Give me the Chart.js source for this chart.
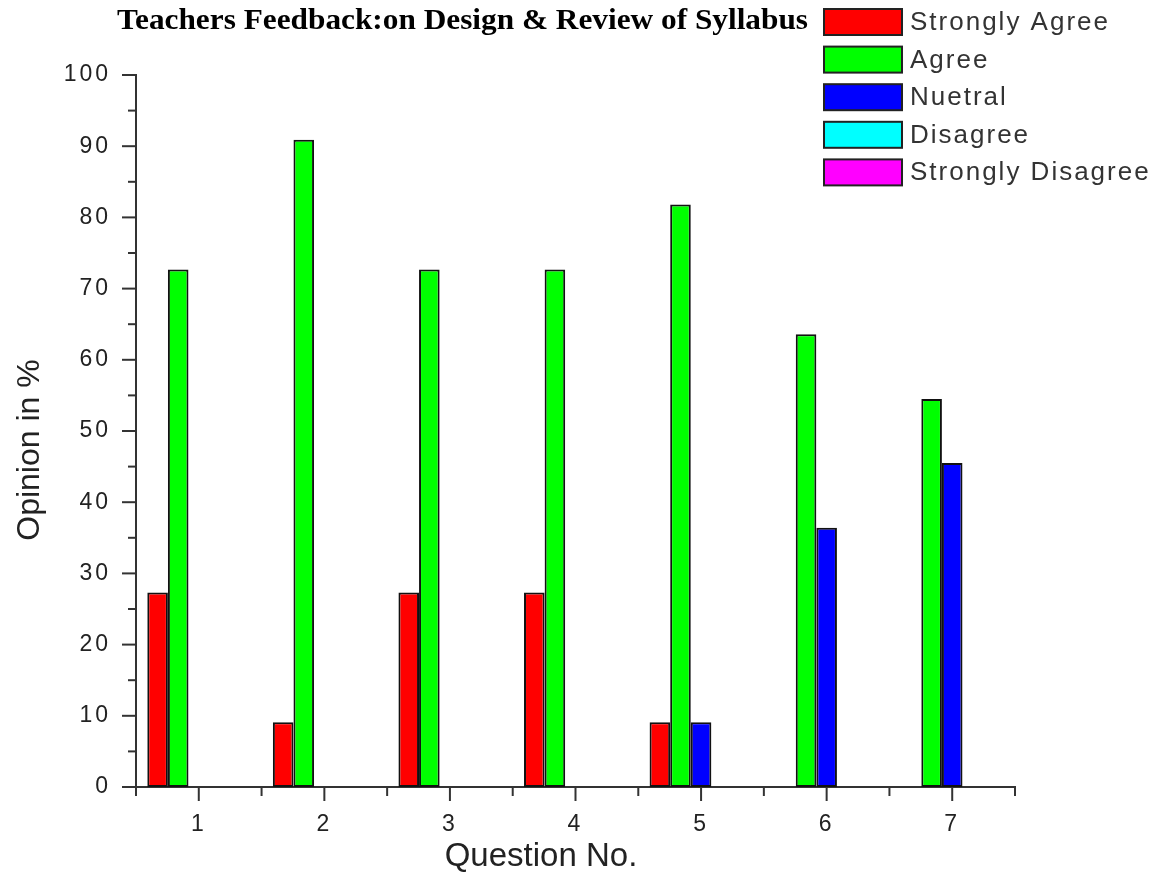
<!DOCTYPE html>
<html>
<head>
<meta charset="utf-8">
<title>Teachers Feedback on Design & Review of Syllabus</title>
<script src="https://cdn.jsdelivr.net/npm/chart.js@4.4.1/dist/chart.umd.min.js"></script>
<style>
    html, body { margin: 0; padding: 0; background: #fff; }
    #wrap { width: 1164px; height: 877px; position: relative; }
</style>
</head>
<body>
<div id="wrap"><canvas id="feedback-chart" width="1164" height="877"></canvas></div>
<script>
    // values (percent of teachers)
    var questions = ['1', '2', '3', '4', '5', '6', '7'];
    var seriesNames = ['Strongly Agree', 'Agree', 'Nuetral', 'Disagree', 'Strongly Disagree'];
    var seriesColors = ['#ff0000', '#00ff00', '#0000ff', '#00ffff', '#ff00ff'];
    var stronglyAgree = [27.3, 9.1, 27.3, 27.3, 9.1, 0, 0];
    var agree = [72.7, 90.9, 72.7, 72.7, 81.8, 63.6, 54.5];
    var neutral = [0, 0, 0, 0, 9.1, 36.4, 45.5];
    var disagree = [0, 0, 0, 0, 0, 0, 0];
    var stronglyDisagree = [0, 0, 0, 0, 0, 0, 0];
    var yTicks = [0, 10, 20, 30, 40, 50, 60, 70, 80, 90, 100];

    var chartTitle = 'Teachers Feedback:on Design & Review of Syllabus';
    var xTitle = 'Question No.';
    var yTitle = 'Opinion in %';

    var allSeries = [stronglyAgree, agree, neutral, disagree, stronglyDisagree];

    var datasets = allSeries.map(function(values, i) {
        return {
            label: seriesNames[i],
            data: values,
            backgroundColor: seriesColors[i],
            borderColor: '#111',
            borderWidth: 2,
            borderSkipped: false
        };
    });

    function line(ctx, x1, y1, x2, y2) {
        ctx.beginPath();
        ctx.moveTo(x1, y1);
        ctx.lineTo(x2, y2);
        ctx.stroke();
    }

    var decorPlugin = {
        id: 'originDecor',
        beforeDraw: function(chart) {
            // Origin spaces its tick digits out a bit
            chart.ctx.letterSpacing = '3px';
        },
        afterDraw: function(chart) {
            var ctx = chart.ctx;
            var a = chart.chartArea;
            var x = chart.scales.x;
            var y = chart.scales.y;

            ctx.save();
            ctx.letterSpacing = '0px';
            ctx.strokeStyle = '#333';
            ctx.lineWidth = 2;

            // y ticks: major every 10, minor every 5
            yTicks.forEach(function(v) {
                var py = y.getPixelForValue(v);
                line(ctx, a.left - 14, py, a.left, py);
                if (v < 100) {
                    var pm = y.getPixelForValue(v + 5);
                    line(ctx, a.left - 8, pm, a.left, pm);
                }
            });

            // x ticks: major at each question, minor on the boundaries
            var step = x.getPixelForValue(1) - x.getPixelForValue(0);
            questions.forEach(function(q, i) {
                var px = x.getPixelForValue(i);
                line(ctx, px, a.bottom, px, a.bottom + 14);
                line(ctx, px - step / 2, a.bottom, px - step / 2, a.bottom + 9);
            });
            line(ctx, a.right, a.bottom, a.right, a.bottom + 9);

            // axis titles
            ctx.fillStyle = '#222';
            ctx.font = '33px Arial, "Liberation Sans", sans-serif';
            ctx.textAlign = 'center';
            ctx.textBaseline = 'middle';
            ctx.fillText(xTitle, 541, 857);

            ctx.save();
            ctx.translate(30, 450);
            ctx.rotate(-Math.PI / 2);
            ctx.font = '32px Arial, "Liberation Sans", sans-serif';
            ctx.fillText(yTitle, 0, 0);
            ctx.restore();

            // title, squeezed to the width it has in the original
            ctx.fillStyle = '#000';
            ctx.font = 'bold 30px "Liberation Serif", "Times New Roman", serif';
            ctx.textAlign = 'left';
            ctx.textBaseline = 'alphabetic';
            var w = ctx.measureText(chartTitle).width;
            ctx.save();
            ctx.translate(117, 29);
            ctx.scale(691 / w, 1);
            ctx.fillText(chartTitle, 0, 0);
            ctx.restore();

            // legend
            ctx.font = '26px Arial, "Liberation Sans", sans-serif';
            ctx.letterSpacing = '2px';
            chart.data.datasets.forEach(function(ds, i) {
                var top = 9 + i * 37.6;
                ctx.fillStyle = ds.backgroundColor;
                ctx.fillRect(824, top, 78, 26);
                ctx.strokeStyle = '#222';
                ctx.lineWidth = 2;
                ctx.strokeRect(824, top, 78, 26);
                ctx.fillStyle = '#333';
                ctx.fillText(ds.label, 910, top + 21);
            });

            ctx.restore();
        }
    };

    new Chart(document.getElementById('feedback-chart'), {
        type: 'bar',
        data: {
            labels: questions,
            datasets: datasets
        },
        options: {
            responsive: false,
            animation: false,
            devicePixelRatio: 1,
            layout: {
                padding: { top: 75, right: 149, left: 0, bottom: 0 }
            },
            datasets: {
                bar: {
                    barPercentage: 1,
                    categoryPercentage: 0.82
                }
            },
            plugins: {
                legend: { display: false },
                tooltip: { enabled: false }
            },
            scales: {
                x: {
                    grid: { display: false, drawTicks: false },
                    border: { display: true, color: '#333', width: 2 },
                    ticks: {
                        color: '#222',
                        padding: 24,
                        font: { family: 'Arial, "Liberation Sans", sans-serif', size: 23 }
                    },
                    afterFit: function(scale) { scale.height = 90; }
                },
                y: {
                    min: 0,
                    max: 100,
                    grid: { display: false, drawTicks: false },
                    border: { display: true, color: '#333', width: 2 },
                    ticks: {
                        stepSize: 10,
                        color: '#222',
                        padding: 25,
                        font: { family: 'Arial, "Liberation Sans", sans-serif', size: 23 }
                    },
                    afterFit: function(scale) { scale.width = 136; }
                }
            }
        },
        plugins: [decorPlugin]
    });
</script>
</body>
</html>
